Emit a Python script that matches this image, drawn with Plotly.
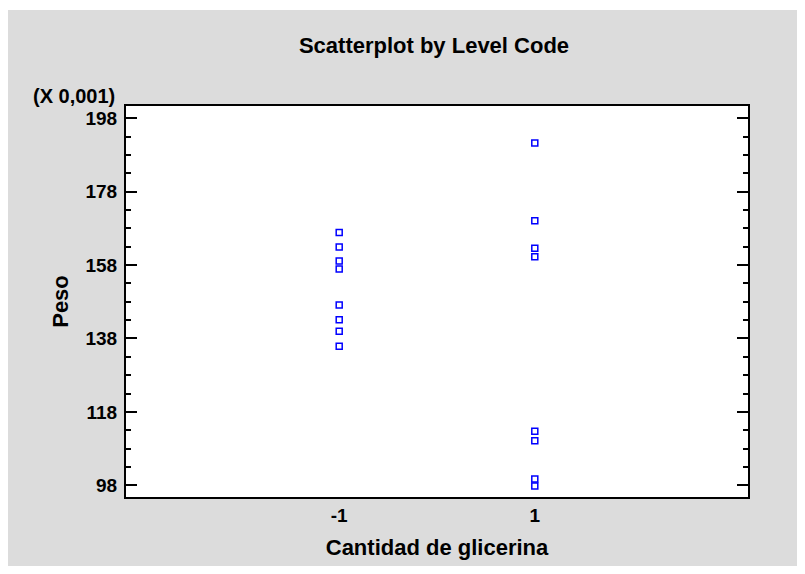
import plotly.graph_objects as go

# Data (Peso in units of 0.001)
levels = [-1, 1]
level_labels = ["-1", "1"]
peso_low = [166.9, 162.9, 159.1, 156.9, 147.1, 143.1, 140.0, 135.9]
peso_high = [191.3, 170.1, 162.6, 160.3, 112.7, 110.1, 99.7, 97.8]
y_ticks = [98, 118, 138, 158, 178, 198]

x_vals = [levels[0]] * len(peso_low) + [levels[1]] * len(peso_high)
y_vals = peso_low + peso_high

W, H = 805, 574
L, R, T, B = 126, 57, 106, 77
pw, ph = W - L - R, H - T - B

def px_x(p):
    return (p - L) / pw

def px_y(p):
    return (H - B - p) / ph

FONT = "Liberation Sans, Arial, sans-serif"

fig = go.Figure()
fig.add_trace(go.Scatter(
    x=x_vals, y=y_vals, mode="markers",
    marker=dict(symbol="square-open", size=6, color="#0000FF",
                line=dict(width=1.5, color="#0000FF")),
    showlegend=False, hoverinfo="x+y"))

fig.update_layout(
    width=W, height=H, autosize=False,
    margin=dict(l=L, r=R, t=T, b=B, pad=0),
    paper_bgcolor="white", plot_bgcolor="white",
    font=dict(family=FONT, color="black"),
    title=dict(text="Scatterplot by Level Code", x=px_x(434), xref="paper",
               y=1 - 45 / H, yref="container", yanchor="middle", xanchor="center",
               font=dict(size=22, weight="bold", family=FONT, color="black")),
    shapes=[
        dict(type="rect", xref="paper", yref="paper", layer="below",
             x0=px_x(8), x1=px_x(797), y0=px_y(566), y1=px_y(10),
             fillcolor="#DCDCDC", line=dict(width=0)),
        dict(type="rect", xref="paper", yref="paper", layer="below",
             x0=0, x1=1, y0=0, y1=1, fillcolor="white", line=dict(width=0)),
    ],
    annotations=[
        dict(text="(X 0,001)", xref="paper", yref="paper", x=px_x(117), y=px_y(96),
             xanchor="right", yanchor="middle", showarrow=False,
             font=dict(size=20, weight="bold", family=FONT, color="black")),
    ],
)

fig.update_xaxes(
    range=[-3.18, 3.18], tickvals=levels, ticktext=level_labels,
    showline=True, linewidth=2, linecolor="black", mirror=True,
    ticks="", showgrid=False, zeroline=False,
    tickfont=dict(size=19, weight="bold", family=FONT, color="black"),
    title=dict(text="Cantidad de glicerina", standoff=15,
               font=dict(size=22, weight="bold", family=FONT, color="black")),
)
fig.update_yaxes(
    range=[94.8, 201.35], tickvals=y_ticks, ticktext=[str(v) for v in y_ticks],
    showline=True, linewidth=2, linecolor="black", mirror="ticks",
    ticks="inside", ticklen=11, tickwidth=2, tickcolor="black",
    minor=dict(tick0=98, dtick=5, ticks="inside", ticklen=5, tickwidth=2, tickcolor="black"),
    showgrid=False, zeroline=False, ticklabelstandoff=3,
    tickfont=dict(size=19, weight="bold", family=FONT, color="black"),
    title=dict(text="Peso", standoff=11,
               font=dict(size=22, weight="bold", family=FONT, color="black")),
)

fig.write_html("out.html")
